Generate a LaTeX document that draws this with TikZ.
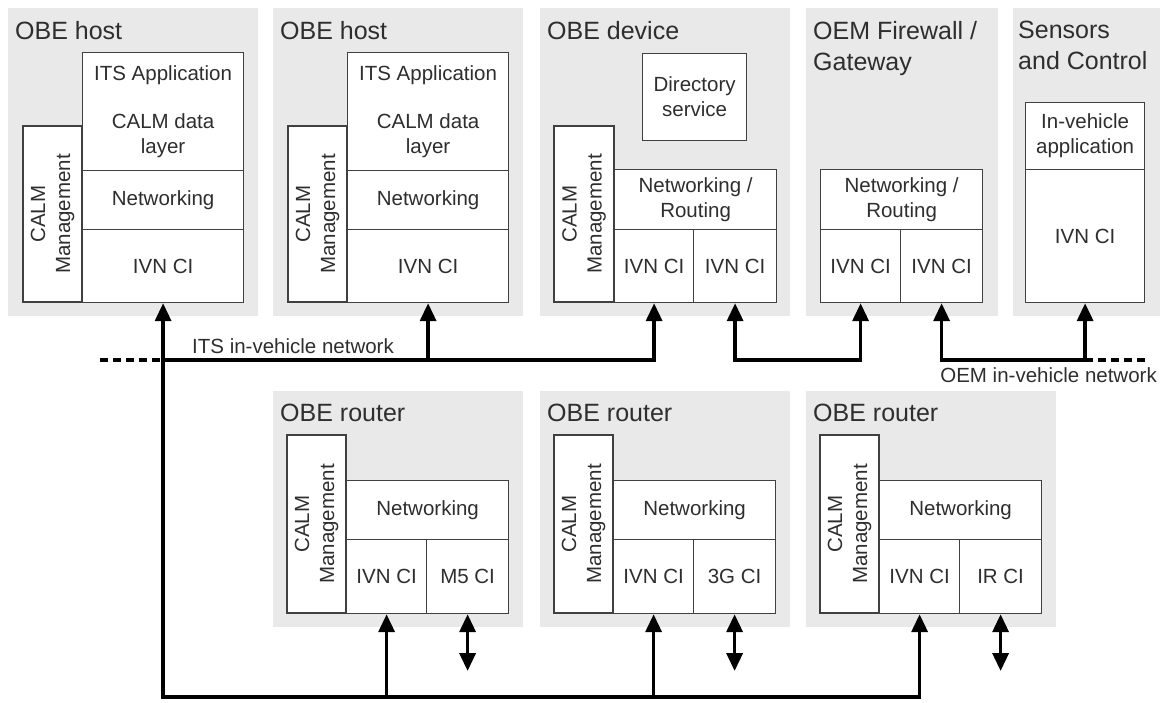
\documentclass[tikz,border=0pt]{standalone}
\usepackage{fontspec}
\setmainfont{Liberation Sans}
\usetikzlibrary{arrows.meta}
\definecolor{panelgray}{HTML}{E9E9E9}
\definecolor{boxline}{HTML}{404040}
\definecolor{txtcol}{HTML}{2E2E2E}
\tikzset{
  panel/.style={fill=panelgray, draw=none, inner sep=0pt, anchor=north west},
  lay/.style={draw=boxline, fill=white, line width=1.2pt, inner sep=0pt, anchor=north west,
    align=center, text=txtcol, font=\fontsize{20.5}{25}\selectfont},
  mgmt/.style={draw=boxline, fill=white, line width=1.2pt, inner sep=0pt, rotate=90,
    align=center, text=txtcol, font=\fontsize{20.5}{25}\selectfont},
  ttl/.style={anchor=north west, inner sep=0pt, align=left, text=txtcol,
    font=\fontsize{25}{31}\selectfont},
  netlbl/.style={inner sep=0pt, text=txtcol, font=\fontsize{20.5}{24}\selectfont},
  net/.style={line width=3.6pt, draw=black},
  bus/.style={net, dash pattern=on 8pt off 5pt},
}
\begin{document}
\begin{tikzpicture}[x=1pt, y=-1pt, >={Triangle[length=18pt,width=16pt]}]
\useasboundingbox (0,0) rectangle (1166,702);
% panels
\node[panel, minimum width=250pt, minimum height=308pt] (P1) at (8,8) {};
\node[panel, minimum width=250pt, minimum height=308pt] (P2) at (273,8) {};
\node[panel, minimum width=250pt, minimum height=308pt] (P3) at (540,8) {};
\node[panel, minimum width=192pt, minimum height=308pt] (P4) at (806,8) {};
\node[panel, minimum width=147pt, minimum height=308pt] (P5) at (1013,8) {};
\node[panel, minimum width=250pt, minimum height=236pt] (R1) at (273,391) {};
\node[panel, minimum width=250pt, minimum height=236pt] (R2) at (540,391) {};
\node[panel, minimum width=250pt, minimum height=236pt] (R3) at (806,391) {};
% titles
\node[ttl] (t1) at (15,21) {OBE host};
\node[ttl] (t2) at (280,21) {OBE host};
\node[ttl] (t3) at (547,21) {OBE device};
\node[ttl] (t4) at (813,21) {OEM Firewall /\\Gateway};
\node[ttl] (t5) at (1018,21) {Sensors\\and Control};
\node[ttl] (tr1) at (280,404) {OBE router};
\node[ttl] (tr2) at (547,404) {OBE router};
\node[ttl] (tr3) at (813,404) {OBE router};
% OBE host 1
\node[mgmt, minimum width=176pt, minimum height=59pt] (m1) at (52.5,214) {CALM\\Management};
\node[lay, minimum width=161pt, minimum height=118pt] (a1) at (82,52) {ITS Application\\[23pt]CALM data\\layer};
\node[lay, minimum width=161pt, minimum height=59pt] (n1) at (82,170) {Networking};
\node[lay, minimum width=161pt, minimum height=73pt] (i1) at (82,229) {IVN CI};
% OBE host 2
\node[mgmt, minimum width=176pt, minimum height=59pt] (m2) at (317.5,214) {CALM\\Management};
\node[lay, minimum width=161pt, minimum height=118pt] (a2) at (347,52) {ITS Application\\[23pt]CALM data\\layer};
\node[lay, minimum width=161pt, minimum height=59pt] (n2) at (347,170) {Networking};
\node[lay, minimum width=161pt, minimum height=73pt] (i2) at (347,229) {IVN CI};
% OBE device
\node[lay, minimum width=104pt, minimum height=87pt] (dir) at (642,53) {Directory\\service};
\node[mgmt, minimum width=176pt, minimum height=60pt] (m3) at (584,214) {CALM\\Management};
\node[lay, minimum width=162pt, minimum height=60pt] (nr3) at (614,169) {Networking /\\Routing};
\node[lay, minimum width=79pt, minimum height=73pt] (i3a) at (614,229) {IVN CI};
\node[lay, minimum width=83pt, minimum height=73pt] (i3b) at (693,229) {IVN CI};
% OEM firewall
\node[lay, minimum width=162pt, minimum height=60pt] (nr4) at (820,169) {Networking /\\Routing};
\node[lay, minimum width=80pt, minimum height=73pt] (i4a) at (820,229) {IVN CI};
\node[lay, minimum width=82pt, minimum height=73pt] (i4b) at (900,229) {IVN CI};
% sensors
\node[lay, minimum width=119pt, minimum height=67pt] (app5) at (1025,102) {In-vehicle\\application};
\node[lay, minimum width=119pt, minimum height=133pt] (i5) at (1025,169) {IVN CI};
% routers
\node[mgmt, minimum width=178pt, minimum height=59pt] (rm1) at (316.5,524) {CALM\\Management};
\node[lay, minimum width=162pt, minimum height=59pt] (rn1) at (346,480) {Networking};
\node[lay, minimum width=80pt, minimum height=74pt] (ri1) at (346,539) {IVN CI};
\node[lay, minimum width=82pt, minimum height=74pt] (rx1) at (426,539) {M5 CI};
\node[mgmt, minimum width=178pt, minimum height=59pt] (rm2) at (583.5,524) {CALM\\Management};
\node[lay, minimum width=162pt, minimum height=59pt] (rn2) at (613,480) {Networking};
\node[lay, minimum width=80pt, minimum height=74pt] (ri2) at (613,539) {IVN CI};
\node[lay, minimum width=82pt, minimum height=74pt] (rx2) at (693,539) {3G CI};
\node[mgmt, minimum width=178pt, minimum height=59pt] (rm3) at (849.5,524) {CALM\\Management};
\node[lay, minimum width=162pt, minimum height=59pt] (rn3) at (879,480) {Networking};
\node[lay, minimum width=80pt, minimum height=74pt] (ri3) at (879,539) {IVN CI};
\node[lay, minimum width=82pt, minimum height=74pt] (rx3) at (959,539) {IR CI};
% bus reference coordinates
\coordinate (itsbus) at (0,360);
\coordinate (rbus) at (0,697);
\coordinate (itsL) at (100,360);
\coordinate (oemR) at (1146,360);
\coordinate (x1e) at (rx1.south |- 0,671);
\coordinate (x2e) at (rx2.south |- 0,671);
\coordinate (x3e) at (rx3.south |- 0,671);
% labels
\node[netlbl, anchor=base west] (itslbl) at (192,353) {ITS in-vehicle network};
\node[netlbl, anchor=base east] (oemlbl) at (1157,382) {OEM in-vehicle network};
% connectors
\draw[net,<->] (i1.south) -- (i1.south |- rbus) -- (ri3.south |- rbus) -- (ri3.south);
\draw[net,->] (ri1.south |- rbus) -- (ri1.south);
\draw[net,->] (ri2.south |- rbus) -- (ri2.south);
\draw[net] (i1.south |- itsbus) -- (i2.south |- itsbus);
\draw[net,<->] (i2.south) -- (i2.south |- itsbus) -- (i3a.south |- itsbus) -- (i3a.south);
\draw[bus] (itsL) -- (i1.south |- itsbus);
\draw[net,<->] (i3b.south) -- (i3b.south |- itsbus) -- (i4a.south |- itsbus) -- (i4a.south);
\draw[net,<->] (i4b.south) -- (i4b.south |- itsbus) -- (i5.south |- itsbus) -- (i5.south);
\draw[bus] (i5.south |- itsbus) -- (oemR);
\draw[net,<->] (rx1.south) -- (x1e);
\draw[net,<->] (rx2.south) -- (x2e);
\draw[net,<->] (rx3.south) -- (x3e);
\end{tikzpicture}
\end{document}
